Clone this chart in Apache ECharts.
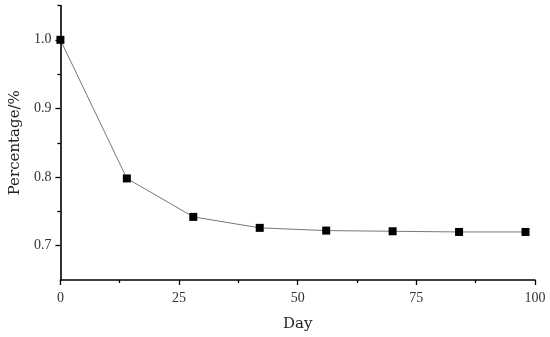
<!DOCTYPE html>
<html>
<head>
<meta charset="utf-8">
<script src="https://cdn.jsdelivr.net/npm/echarts@6/dist/echarts.min.js"></script>
<style>html,body{margin:0;padding:0;background:#fff}#c{width:550px;height:337px}</style>
</head>
<body>
<div id="c"></div>
<script>
var days = [0, 14, 28, 42, 56, 70, 84, 98];
var percentage = [1.0, 0.798, 0.742, 0.726, 0.722, 0.721, 0.720, 0.720];
var yMajorTicks = [0.7, 0.8, 0.9, 1.0];
var yMinorTicks = [0.75, 0.85, 0.95, 1.05];
var xTitle = 'Day';
var yTitle = 'Percentage/%';

var tickFont = {fontFamily: 'Liberation Serif', fontSize: 14, color: '#333'};
var nameFont = {fontFamily: 'DejaVu Serif', fontSize: 15, color: '#222'};
var axisLine = {show: true, lineStyle: {color: '#000', width: 1.6}};

var chart = echarts.init(document.getElementById('c'));
chart.setOption({
  animation: false,
  grid: {left: 59.5, right: 15, top: 5.5, bottom: 54},
  xAxis: {
    type: 'value', min: 0, max: 100, interval: 25,
    name: xTitle, nameLocation: 'middle', nameGap: 37, nameTextStyle: nameFont,
    axisLine: axisLine,
    axisTick: {show: true, inside: false, length: 5, lineStyle: {color: '#000', width: 1.3}},
    minorTick: {show: true, splitNumber: 2, length: 3, lineStyle: {color: '#000', width: 1.3}},
    axisLabel: Object.assign({margin: 11}, tickFont),
    splitLine: {show: false}
  },
  yAxis: [{
    type: 'value', min: 0.65, max: 1.05,
    name: yTitle, nameLocation: 'middle', nameGap: 36, nameTextStyle: nameFont,
    axisLine: axisLine,
    axisTick: {show: true, inside: false, length: 5, customValues: yMajorTicks, lineStyle: {color: '#000', width: 1.3}},
    axisLabel: Object.assign({margin: 9, customValues: yMajorTicks, formatter: function (v) { return v.toFixed(1); }}, tickFont),
    splitLine: {show: false}
  }, {
    type: 'value', min: 0.65, max: 1.05, position: 'left',
    axisLine: {show: false},
    axisTick: {show: true, inside: false, length: 3, customValues: yMinorTicks, lineStyle: {color: '#000', width: 1.3}},
    axisLabel: {show: false},
    splitLine: {show: false}
  }],
  series: [{
    type: 'line',
    data: days.map(function (d, i) { return [d, percentage[i]]; }),
    symbol: 'rect', symbolSize: 8,
    itemStyle: {color: '#000'},
    lineStyle: {color: '#777', width: 1}
  }]
});
</script>
</body>
</html>
